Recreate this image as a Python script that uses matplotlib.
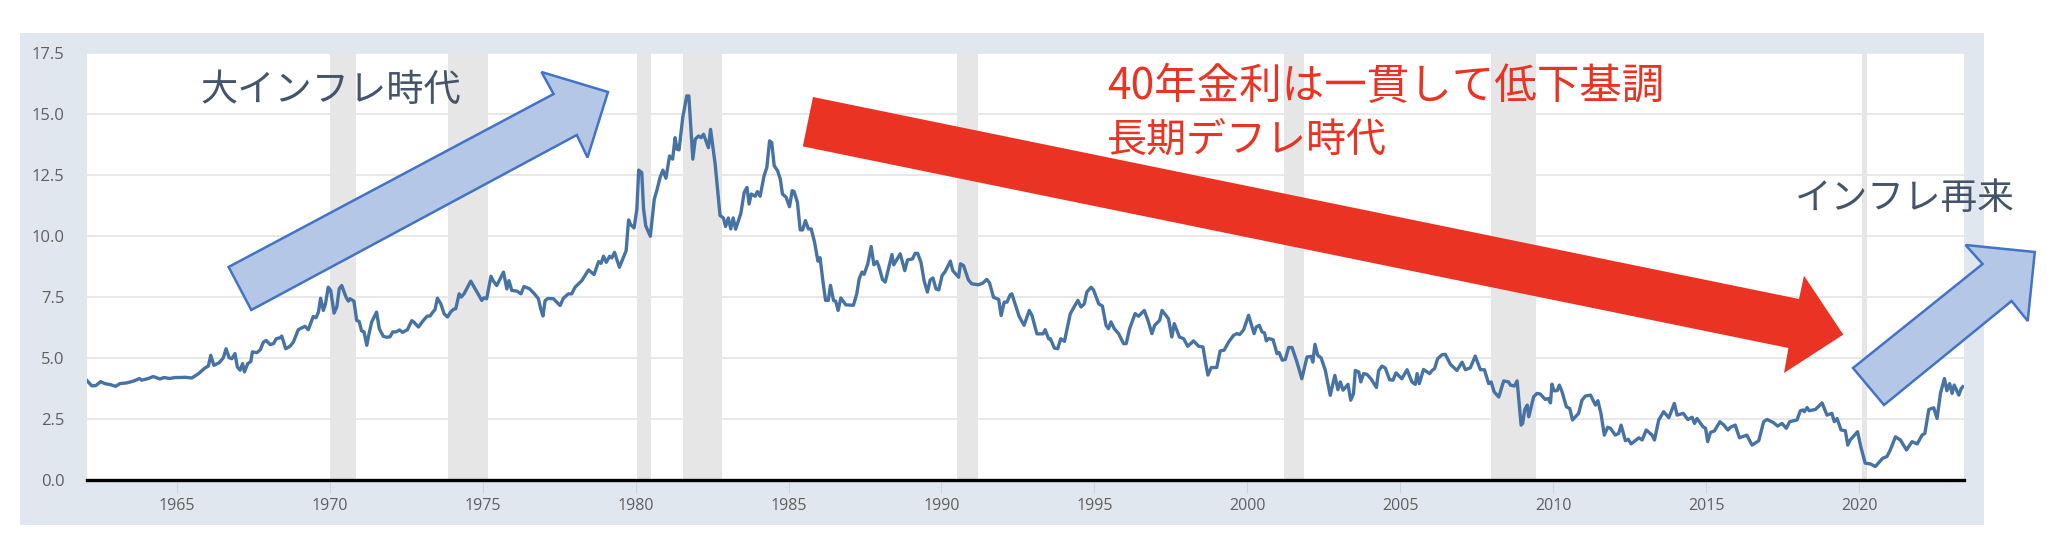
import numpy as np
import matplotlib
matplotlib.use("Agg")
import matplotlib.pyplot as plt
from matplotlib.patches import Polygon, Rectangle

plt.rcParams['font.family'] = ['Noto Sans CJK JP', 'DejaVu Sans']

# Yield readings (year, percent), split by era
yields_1960s = [
    (1962.05, 4.09), (1962.22, 3.86), (1962.35, 3.87), (1962.51, 4.03), (1962.65, 3.95), (1962.82, 3.91),
    (1963.0, 3.84), (1963.14, 3.95), (1963.36, 3.98), (1963.58, 4.05), (1963.78, 4.16), (1963.85, 4.09),
    (1964.07, 4.16), (1964.23, 4.24), (1964.45, 4.14), (1964.58, 4.2), (1964.76, 4.16), (1964.94, 4.2),
    (1965.1, 4.2), (1965.27, 4.21), (1965.49, 4.18), (1965.71, 4.36), (1965.92, 4.59), (1966.03, 4.67),
    (1966.11, 5.11), (1966.21, 4.7), (1966.39, 4.81), (1966.52, 5.01), (1966.61, 5.38), (1966.71, 5.01),
    (1966.8, 4.97), (1966.9, 5.18), (1966.98, 4.63), (1967.07, 4.5), (1967.15, 4.77), (1967.21, 4.43),
    (1967.32, 4.77), (1967.42, 4.86), (1967.47, 5.25), (1967.62, 5.22), (1967.73, 5.34), (1967.83, 5.65),
    (1967.92, 5.72), (1968.05, 5.55), (1968.16, 5.59), (1968.25, 5.79), (1968.38, 5.83), (1968.43, 5.9),
    (1968.56, 5.38), (1968.7, 5.48), (1968.81, 5.65), (1968.97, 6.16), (1969.19, 6.3), (1969.3, 6.16),
    (1969.46, 6.7), (1969.55, 6.65), (1969.63, 6.88), (1969.7, 7.45), (1969.79, 6.95), (1969.86, 7.22),
    (1969.95, 7.9),
]
yields_1970s = [
    (1970.03, 7.77), (1970.14, 6.84), (1970.23, 7.09), (1970.31, 7.84), (1970.39, 7.97), (1970.53, 7.5),
    (1970.61, 7.33), (1970.66, 7.43), (1970.79, 7.33), (1970.88, 6.54), (1970.96, 6.5), (1971.04, 6.11),
    (1971.12, 6.07), (1971.21, 5.52), (1971.28, 5.97), (1971.37, 6.47), (1971.53, 6.88), (1971.62, 6.2),
    (1971.75, 5.89), (1971.86, 5.85), (1971.97, 5.87), (1972.06, 6.07), (1972.17, 6.07), (1972.28, 6.15),
    (1972.38, 6.05), (1972.54, 6.16), (1972.68, 6.53), (1972.75, 6.47), (1972.9, 6.27), (1973.06, 6.54),
    (1973.19, 6.72), (1973.28, 6.72), (1973.37, 6.88), (1973.44, 6.98), (1973.52, 7.45), (1973.63, 7.22),
    (1973.74, 6.81), (1973.85, 6.68), (1973.95, 6.88), (1974.04, 6.99), (1974.12, 7.02), (1974.23, 7.63),
    (1974.3, 7.5), (1974.39, 7.63), (1974.61, 8.15), (1974.75, 7.84), (1974.97, 7.36), (1975.04, 7.47),
    (1975.13, 7.43), (1975.27, 8.35), (1975.35, 8.15), (1975.46, 7.97), (1975.68, 8.52), (1975.79, 7.83),
    (1975.86, 8.17), (1975.95, 7.77), (1976.12, 7.74), (1976.25, 7.63), (1976.35, 7.93), (1976.53, 7.84),
    (1976.69, 7.63), (1976.82, 7.43), (1976.9, 7.0), (1976.97, 6.72), (1977.04, 7.35), (1977.13, 7.44),
    (1977.31, 7.43), (1977.53, 7.15), (1977.64, 7.45), (1977.8, 7.63), (1977.91, 7.63), (1978.02, 7.9),
    (1978.24, 8.17), (1978.46, 8.61), (1978.64, 8.42), (1978.79, 8.95), (1978.87, 8.88), (1978.95, 9.17),
    (1979.04, 8.92), (1979.15, 9.17), (1979.22, 9.1), (1979.31, 9.33), (1979.47, 8.72), (1979.69, 9.4),
    (1979.77, 10.66), (1979.84, 10.46), (1979.95, 10.33),
]
yields_1980s = [
    (1980.04, 11.1), (1980.1, 12.7), (1980.2, 12.6), (1980.26, 11.1), (1980.33, 10.42), (1980.48, 9.99),
    (1980.61, 11.51), (1980.69, 11.85), (1980.8, 12.4), (1980.89, 12.7), (1980.99, 12.37), (1981.11, 13.28),
    (1981.21, 13.15), (1981.29, 14.03), (1981.35, 13.56), (1981.42, 13.53), (1981.54, 14.85), (1981.67, 15.74),
    (1981.74, 15.74), (1981.87, 13.15), (1981.95, 13.97), (1982.06, 14.1), (1982.14, 14.03), (1982.22, 14.17),
    (1982.38, 13.62), (1982.45, 14.37), (1982.6, 12.95), (1982.76, 10.84), (1982.87, 10.74), (1982.94, 10.39),
    (1983.03, 10.74), (1983.11, 10.29), (1983.19, 10.74), (1983.27, 10.28), (1983.44, 10.93), (1983.55, 11.79),
    (1983.64, 11.99), (1983.71, 11.31), (1983.78, 11.72), (1983.91, 11.63), (1983.98, 11.82), (1984.07, 11.63),
    (1984.2, 12.47), (1984.29, 12.81), (1984.38, 13.9), (1984.45, 13.83), (1984.53, 12.88), (1984.64, 12.68),
    (1984.73, 12.33), (1984.8, 11.72), (1984.92, 11.59), (1985.03, 11.2), (1985.12, 11.86), (1985.18, 11.82),
    (1985.29, 11.38), (1985.38, 10.25), (1985.46, 10.25), (1985.55, 10.63), (1985.65, 10.29), (1985.74, 10.29),
    (1985.85, 9.75), (1985.96, 8.97), (1986.03, 9.11), (1986.12, 8.18), (1986.21, 7.36), (1986.3, 7.36),
    (1986.37, 7.98), (1986.47, 7.36), (1986.54, 7.33), (1986.62, 6.95), (1986.71, 7.46), (1986.87, 7.18),
    (1987.12, 7.16), (1987.23, 7.63), (1987.31, 8.25), (1987.4, 8.52), (1987.47, 8.43), (1987.59, 8.86),
    (1987.7, 9.57), (1987.79, 8.82), (1987.89, 8.96), (1987.96, 8.72), (1988.07, 8.22), (1988.16, 8.11),
    (1988.38, 9.24), (1988.44, 8.82), (1988.65, 9.27), (1988.8, 8.58), (1988.89, 9.02), (1989.05, 9.06),
    (1989.14, 9.29), (1989.22, 9.29), (1989.33, 8.92), (1989.43, 8.17), (1989.54, 7.7), (1989.63, 8.2),
    (1989.72, 8.28), (1989.82, 7.83), (1989.91, 7.79),
]
yields_1990s = [
    (1990.02, 8.38), (1990.12, 8.54), (1990.29, 8.97), (1990.37, 8.58), (1990.56, 8.31), (1990.62, 8.86),
    (1990.72, 8.79), (1990.88, 8.2), (1990.99, 8.04), (1991.21, 8.0), (1991.35, 8.07), (1991.48, 8.22),
    (1991.57, 8.08), (1991.7, 7.49), (1991.87, 7.4), (1991.95, 6.74), (1992.05, 7.29), (1992.14, 7.29),
    (1992.25, 7.6), (1992.3, 7.63), (1992.54, 6.7), (1992.7, 6.34), (1992.87, 6.95), (1992.96, 6.74),
    (1993.12, 5.99), (1993.32, 5.99), (1993.39, 6.16), (1993.5, 5.79), (1993.56, 5.79), (1993.69, 5.41),
    (1993.8, 5.38), (1993.9, 5.79), (1994.02, 5.68), (1994.21, 6.81), (1994.32, 7.06), (1994.46, 7.36),
    (1994.56, 7.09), (1994.67, 7.22), (1994.75, 7.7), (1994.89, 7.9), (1994.97, 7.79), (1995.14, 7.22),
    (1995.26, 7.13), (1995.38, 6.34), (1995.46, 6.2), (1995.54, 6.48), (1995.65, 6.2), (1995.79, 6.0),
    (1995.95, 5.59), (1996.04, 5.59), (1996.15, 6.2), (1996.33, 6.82), (1996.44, 6.71), (1996.63, 6.95),
    (1996.75, 6.54), (1996.88, 6.0), (1996.97, 6.34), (1997.13, 6.54), (1997.21, 6.95), (1997.42, 6.61),
    (1997.53, 5.86), (1997.61, 6.41), (1997.78, 5.86), (1997.92, 5.79), (1998.05, 5.48), (1998.24, 5.7),
    (1998.41, 5.48), (1998.55, 5.45), (1998.62, 4.91), (1998.71, 4.3), (1998.82, 4.61), (1999.0, 4.61),
    (1999.11, 5.29), (1999.24, 5.32), (1999.39, 5.66), (1999.55, 5.93), (1999.66, 6.0), (1999.75, 5.96),
    (1999.88, 6.16),
]
yields_2000s = [
    (2000.04, 6.75), (2000.22, 6.0), (2000.29, 6.27), (2000.39, 6.34), (2000.48, 6.07), (2000.56, 6.03),
    (2000.62, 5.7), (2000.7, 5.8), (2000.84, 5.75), (2000.97, 5.18), (2001.04, 5.22), (2001.14, 4.91),
    (2001.24, 4.94), (2001.35, 5.43), (2001.46, 5.43), (2001.62, 4.84), (2001.78, 4.15), (2001.95, 5.04),
    (2002.09, 5.07), (2002.14, 4.83), (2002.21, 5.56), (2002.3, 5.11), (2002.41, 5.01), (2002.55, 4.49),
    (2002.71, 3.47), (2002.86, 4.29), (2002.96, 3.7), (2003.04, 4.02), (2003.13, 3.68), (2003.29, 3.92),
    (2003.38, 3.27), (2003.47, 3.54), (2003.53, 4.49), (2003.64, 4.43), (2003.71, 4.02), (2003.8, 4.36),
    (2003.91, 4.33), (2004.04, 4.15), (2004.22, 3.79), (2004.29, 4.47), (2004.4, 4.67), (2004.51, 4.59),
    (2004.65, 4.11), (2004.76, 4.09), (2004.86, 4.39), (2005.05, 4.15), (2005.22, 4.52), (2005.38, 4.02),
    (2005.49, 3.92), (2005.55, 4.36), (2005.62, 3.95), (2005.76, 4.53), (2005.96, 4.36), (2006.04, 4.49),
    (2006.12, 4.56), (2006.22, 4.97), (2006.36, 5.13), (2006.47, 5.15), (2006.64, 4.74), (2006.85, 4.49),
    (2007.02, 4.83), (2007.13, 4.52), (2007.29, 4.6), (2007.45, 5.08), (2007.62, 4.52), (2007.75, 4.52),
    (2007.89, 3.95), (2007.97, 4.02), (2008.07, 3.61), (2008.22, 3.4), (2008.38, 4.06), (2008.54, 4.02),
    (2008.6, 3.89), (2008.73, 3.85), (2008.82, 4.06), (2008.95, 2.25), (2009.0, 2.32), (2009.07, 2.89),
    (2009.15, 3.07), (2009.2, 2.59), (2009.36, 3.41), (2009.47, 3.55), (2009.58, 3.52), (2009.74, 3.3),
    (2009.83, 3.34), (2009.91, 3.16), (2009.96, 3.93),
]
yields_2010s = [
    (2010.02, 3.66), (2010.13, 3.66), (2010.2, 3.89), (2010.29, 3.61), (2010.43, 3.0), (2010.54, 2.93),
    (2010.63, 2.46), (2010.83, 2.73), (2010.94, 3.27), (2011.05, 3.44), (2011.22, 3.48), (2011.38, 3.07),
    (2011.46, 3.25), (2011.56, 2.73), (2011.67, 1.84), (2011.78, 2.16), (2011.87, 2.12), (2012.03, 1.84),
    (2012.14, 1.91), (2012.22, 2.25), (2012.36, 1.61), (2012.45, 1.67), (2012.55, 1.48), (2012.8, 1.73),
    (2012.91, 1.64), (2013.04, 2.05), (2013.23, 1.84), (2013.31, 1.64), (2013.45, 2.46), (2013.61, 2.8),
    (2013.78, 2.55), (2013.96, 3.14), (2014.05, 2.66), (2014.25, 2.73), (2014.4, 2.48), (2014.54, 2.57),
    (2014.62, 2.32), (2014.7, 2.52), (2014.9, 2.18), (2014.98, 2.12), (2015.05, 1.57), (2015.14, 1.95),
    (2015.27, 2.01), (2015.45, 2.39), (2015.58, 2.25), (2015.71, 2.05), (2015.79, 2.16), (2015.95, 2.25),
    (2016.09, 1.73), (2016.33, 1.84), (2016.5, 1.43), (2016.72, 1.61), (2016.88, 2.39), (2016.99, 2.48),
    (2017.19, 2.36), (2017.34, 2.21), (2017.48, 2.32), (2017.62, 2.12), (2017.73, 2.39), (2017.97, 2.46),
    (2018.08, 2.84), (2018.16, 2.87), (2018.21, 2.8), (2018.3, 2.97), (2018.37, 2.84), (2018.57, 2.89),
    (2018.79, 3.16), (2018.95, 2.66), (2019.11, 2.73), (2019.19, 2.39), (2019.28, 2.52), (2019.41, 2.05),
    (2019.55, 2.02), (2019.63, 1.43), (2019.71, 1.64), (2019.95, 1.98),
]
yields_2020s = [
    (2020.06, 1.34), (2020.2, 0.69), (2020.37, 0.66), (2020.53, 0.55), (2020.67, 0.75), (2020.77, 0.89),
    (2020.91, 0.96), (2021.02, 1.23), (2021.19, 1.77), (2021.35, 1.64), (2021.55, 1.23), (2021.73, 1.57),
    (2021.9, 1.48), (2022.06, 1.84), (2022.15, 1.91), (2022.28, 2.89), (2022.44, 2.96), (2022.55, 2.52),
    (2022.66, 3.55), (2022.79, 4.16), (2022.87, 3.66), (2022.96, 3.95), (2023.04, 3.55), (2023.11, 3.89),
    (2023.26, 3.48), (2023.34, 3.75), (2023.39, 3.82),
]

recession_start = [1970.0, 1973.87, 1980.04, 1981.55, 1990.5, 2001.2, 2007.95, 2020.1]
recession_end = [1970.87, 1975.17, 1980.5, 1982.83, 1991.2, 2001.86, 2009.45, 2020.25]

y_ticks = [0.0, 2.5, 5.0, 7.5, 10.0, 12.5, 15.0, 17.5]
x_ticks = [1965, 1970, 1975, 1980, 1985, 1990, 1995, 2000, 2005, 2010, 2015, 2020]

W, H = 2054, 560


def px(points):
    # pixel positions on the image to figure fractions
    return [(x / W, 1 - y / H) for x, y in points]


fig = plt.figure(figsize=(W / 100, H / 100), dpi=100, facecolor='white')

# grey-blue frame behind the chart
fig.add_artist(Rectangle((20 / W, 1 - 525 / H), 1964 / W, 492 / H, transform=fig.transFigure,
                         facecolor='#e1e7ef', edgecolor='none', zorder=-1))

ax = fig.add_axes([86.6 / W, 1 - 480 / H, 1877.4 / W, 427 / H])
ax.set_facecolor('white')

series = yields_1960s + yields_1970s + yields_1980s + yields_1990s + yields_2000s + yields_2010s + yields_2020s
years, rates = np.array(series).T

for a, b in zip(recession_start, recession_end):
    ax.axvspan(a, b, color='#e6e6e6', lw=0, zorder=1)

ax.plot(years, rates, color='#4672a4', lw=2.4, solid_joinstyle='round', zorder=3)

ax.set_xlim(1962.05, 2023.43)
ax.set_ylim(0, 17.5)
ax.set_yticks(y_ticks)
ax.set_yticklabels(['%.1f' % v for v in y_ticks])
ax.set_xticks(x_ticks)
ax.set_xticklabels([str(v) for v in x_ticks])
ax.grid(axis='y', color='#e6e6e6', lw=1.3, zorder=2)
ax.set_axisbelow(False)
for line in ax.get_ygridlines():
    line.set_zorder(0.5)
for side in ['top', 'left', 'right']:
    ax.spines[side].set_visible(False)
ax.spines['bottom'].set_color('black')
ax.spines['bottom'].set_linewidth(2.4)
ax.spines['bottom'].set_zorder(5)

ax.tick_params(axis='y', length=0, pad=16, labelsize=12, labelcolor='#5f5f5f')
ax.tick_params(axis='x', length=9.5, width=0.7, color='#c8d4e6', pad=3.5, labelsize=11.5, labelcolor='#5f5f5f')
for label in ax.get_xticklabels() + ax.get_yticklabels():
    label.set_fontfamily(['Open Sans', 'DejaVu Sans'])

# hand drawn block arrows on top of the chart
rise_arrow = [(228.6, 267), (553.6, 94), (541.5, 72), (608, 92), (587.5, 157.5), (576.8, 135), (251.3, 310)]
fall_arrow = [(813, 97), (1799, 299), (1804, 275.7), (1843.3, 334.6), (1784, 373), (1788.4, 348), (802.8, 146.4)]
again_arrow = [(1853, 368), (1982.6, 264), (1965.6, 245), (2034.8, 252), (2027.7, 321), (2011.6, 301), (1884, 405)]

for shape in [rise_arrow, again_arrow]:
    fig.add_artist(Polygon(px(shape), closed=True, transform=fig.transFigure, facecolor='#b4c7e7',
                           edgecolor='#4472c4', lw=1.8, joinstyle='miter', zorder=6))
fig.add_artist(Polygon(px(fall_arrow), closed=True, transform=fig.transFigure, facecolor='#ea3323',
                       edgecolor='none', zorder=6))

fig.text(330.5 / W, 1 - 90 / H, '大インフレ時代', color='#44546a', fontsize=26.8, ha='center', va='center', zorder=7)
fig.text(1385.5 / W, 1 - 87 / H, '40年金利は一貫して低下基調', color='#ea3323', fontsize=30.6, ha='center', va='center', zorder=7)
fig.text(1246.5 / W, 1 - 141 / H, '長期デフレ時代', color='#ea3323', fontsize=28.8, ha='center', va='center', zorder=7)
fig.text(1905 / W, 1 - 198 / H, 'インフレ再来', color='#44546a', fontsize=26.4, ha='center', va='center', zorder=7)

fig.savefig('out.png', dpi=100)
